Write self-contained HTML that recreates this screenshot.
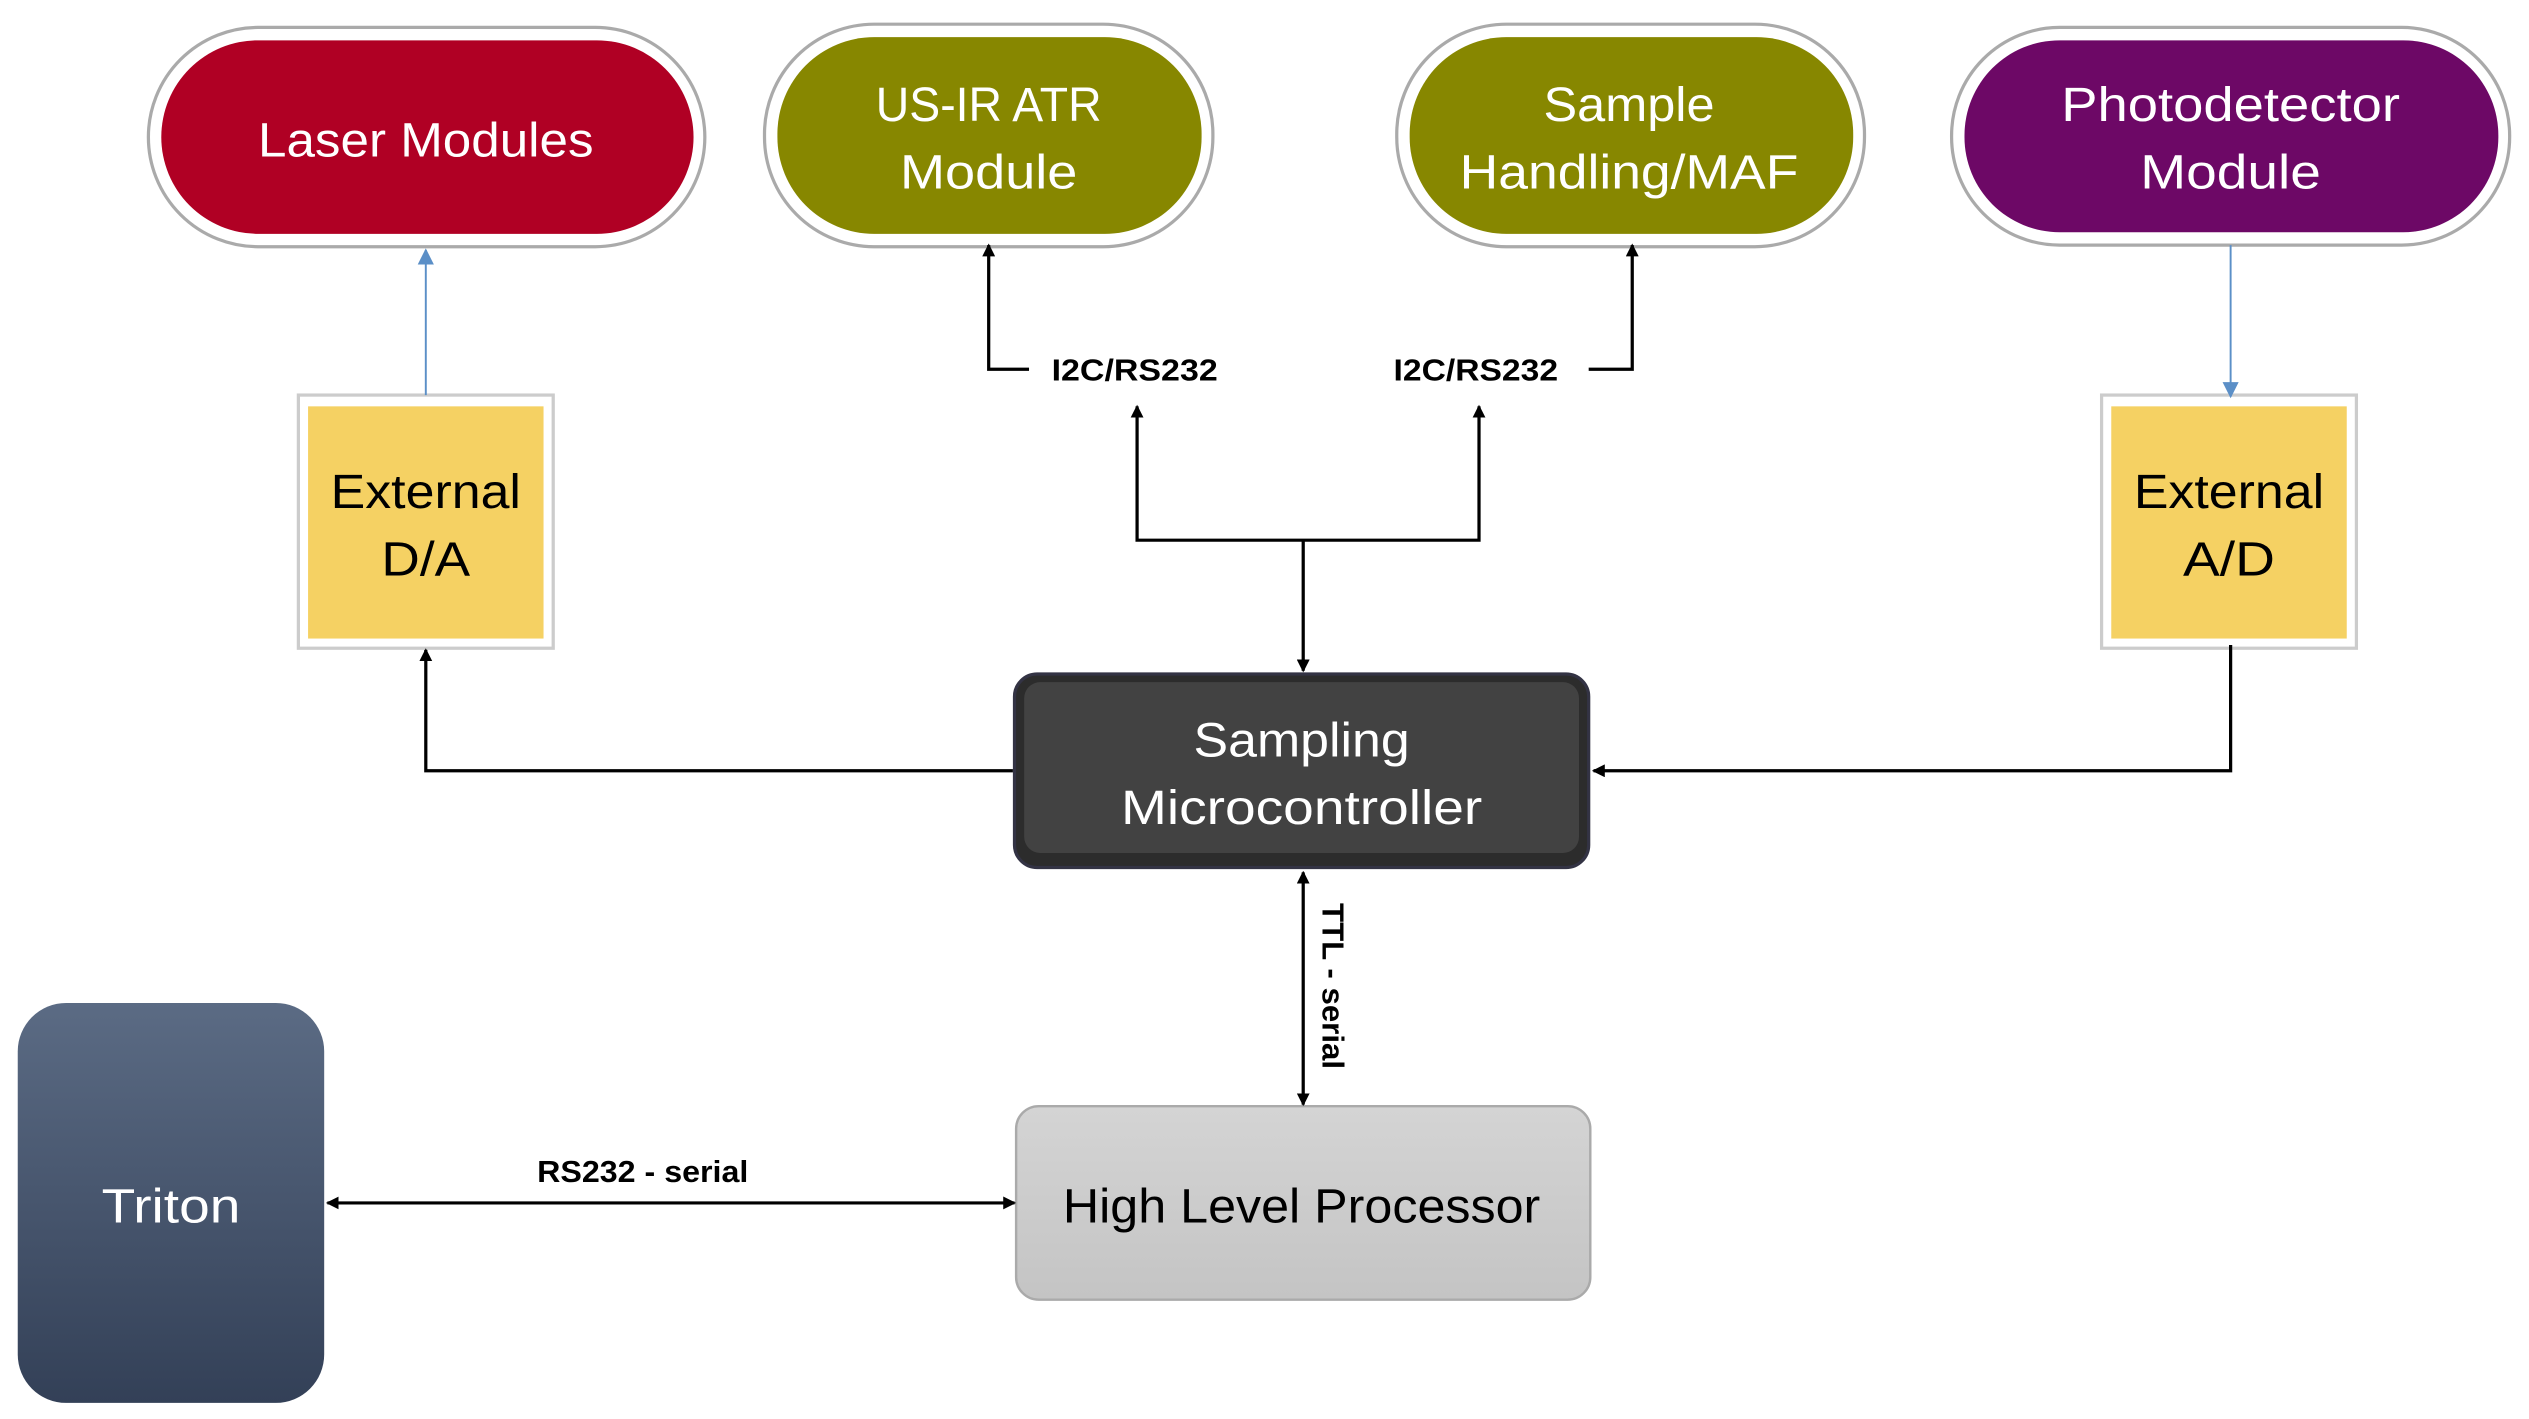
<!DOCTYPE html>
<html><head><meta charset="utf-8"><style>html,body{margin:0;padding:0;background:#fff}svg{display:block}</style></head>
<body>
<svg width="2529" height="1419" viewBox="0 0 1568 880" preserveAspectRatio="none" xmlns="http://www.w3.org/2000/svg" font-family="Liberation Sans, sans-serif">
<defs>
<linearGradient id="tri" x1="0" y1="0" x2="0" y2="1"><stop offset="0" stop-color="#5b6b84"/><stop offset="1" stop-color="#334057"/></linearGradient>
<linearGradient id="hlp" x1="0" y1="0" x2="0" y2="1"><stop offset="0" stop-color="#d4d4d4"/><stop offset="1" stop-color="#c4c4c4"/></linearGradient>
<marker id="ab" markerWidth="8" markerHeight="8" refX="7" refY="4" orient="auto" markerUnits="userSpaceOnUse"><path d="M0,0 L8,4 L0,8 z" fill="#000"/></marker>
<marker id="as" markerWidth="8" markerHeight="8" refX="1" refY="4" orient="auto" markerUnits="userSpaceOnUse"><path d="M8,0 L0,4 L8,8 z" fill="#000"/></marker>
<marker id="bl" markerWidth="10" markerHeight="10" refX="9" refY="5" orient="auto" markerUnits="userSpaceOnUse"><path d="M0,0 L10,5 L0,10 z" fill="#5b8fc7"/></marker>
</defs>
<!-- top pills -->
<rect x="92" y="17" width="345" height="136" rx="68" fill="#fff" stroke="#aaa" stroke-width="2"/>
<rect x="100" y="25" width="330" height="120" rx="60" fill="#b00024"/>
<text x="264" y="97" fill="#fff" font-size="30" text-anchor="middle" textLength="208" lengthAdjust="spacingAndGlyphs">Laser Modules</text>

<rect x="474" y="15" width="278" height="138" rx="68" fill="#fff" stroke="#aaa" stroke-width="2"/>
<rect x="482" y="23" width="263" height="122" rx="60" fill="#878700"/>
<text x="613" y="75" fill="#fff" font-size="30" text-anchor="middle" textLength="140" lengthAdjust="spacingAndGlyphs">US-IR ATR</text>
<text x="613" y="117" fill="#fff" font-size="30" text-anchor="middle" textLength="110" lengthAdjust="spacingAndGlyphs">Module</text>

<rect x="866" y="15" width="290" height="138" rx="68" fill="#fff" stroke="#aaa" stroke-width="2"/>
<rect x="874" y="23" width="275" height="122" rx="60" fill="#878700"/>
<text x="1010" y="75" fill="#fff" font-size="30" text-anchor="middle" textLength="106" lengthAdjust="spacingAndGlyphs">Sample</text>
<text x="1010" y="117" fill="#fff" font-size="30" text-anchor="middle" textLength="210" lengthAdjust="spacingAndGlyphs">Handling/MAF</text>

<rect x="1210" y="17" width="346" height="135" rx="67" fill="#fff" stroke="#aaa" stroke-width="2"/>
<rect x="1218" y="25" width="331" height="119" rx="59" fill="#6d0866"/>
<text x="1383" y="75" fill="#fff" font-size="30" text-anchor="middle" textLength="210" lengthAdjust="spacingAndGlyphs">Photodetector</text>
<text x="1383" y="117" fill="#fff" font-size="30" text-anchor="middle" textLength="112" lengthAdjust="spacingAndGlyphs">Module</text>

<!-- D/A, A/D -->
<rect x="185" y="245" width="158" height="157" fill="#fff" stroke="#ccc" stroke-width="2"/>
<rect x="191" y="252" width="146" height="144" fill="#f5d163"/>
<text x="264" y="315" font-size="30" text-anchor="middle" textLength="118" lengthAdjust="spacingAndGlyphs">External</text>
<text x="264" y="357" font-size="30" text-anchor="middle" textLength="55" lengthAdjust="spacingAndGlyphs">D/A</text>
<rect x="1303" y="245" width="158" height="157" fill="#fff" stroke="#ccc" stroke-width="2"/>
<rect x="1309" y="252" width="146" height="144" fill="#f5d163"/>
<text x="1382" y="315" font-size="30" text-anchor="middle" textLength="118" lengthAdjust="spacingAndGlyphs">External</text>
<text x="1382" y="357" font-size="30" text-anchor="middle" textLength="57" lengthAdjust="spacingAndGlyphs">A/D</text>

<!-- Microcontroller -->
<rect x="629" y="418" width="356" height="120" rx="14" fill="#2c2c2c" stroke="#334" stroke-width="2"/>
<rect x="635" y="423" width="344" height="106" rx="10" fill="#424242"/>
<text x="807" y="469" fill="#fff" font-size="30" text-anchor="middle" textLength="134" lengthAdjust="spacingAndGlyphs">Sampling</text>
<text x="807" y="511" fill="#fff" font-size="30" text-anchor="middle" textLength="224" lengthAdjust="spacingAndGlyphs">Microcontroller</text>

<!-- HLP -->
<rect x="630" y="686" width="356" height="120" rx="14" fill="url(#hlp)" stroke="#aaa" stroke-width="1.5"/>
<text x="807" y="758" font-size="30" text-anchor="middle" textLength="296" lengthAdjust="spacingAndGlyphs">High Level Processor</text>

<!-- Triton -->
<rect x="11" y="622" width="190" height="248" rx="30" fill="url(#tri)"/>
<text x="106" y="758" fill="#fff" font-size="30" text-anchor="middle" textLength="86" lengthAdjust="spacingAndGlyphs">Triton</text>

<!-- connectors -->
<g fill="none" stroke-width="2">
<line x1="264" y1="245" x2="264" y2="155" stroke="#5b8fc7" stroke-width="1.2" marker-end="url(#bl)"/>
<line x1="1383" y1="152" x2="1383" y2="246" stroke="#5b8fc7" stroke-width="1.2" marker-end="url(#bl)"/>
<polyline points="628,478 264,478 264,403" stroke="#000" marker-end="url(#ab)"/>
<polyline points="1383,400 1383,478 988,478" stroke="#000" marker-end="url(#ab)"/>
<line x1="808" y1="335" x2="808" y2="416" stroke="#000" marker-end="url(#ab)"/>
<polyline points="705,252 705,335 917,335 917,252" stroke="#000" marker-start="url(#as)" marker-end="url(#ab)"/>
<polyline points="638,229 613,229 613,152" stroke="#000" marker-end="url(#ab)"/>
<polyline points="985,229 1012,229 1012,152" stroke="#000" marker-end="url(#ab)"/>
<line x1="808" y1="541" x2="808" y2="685" stroke="#000" marker-start="url(#as)" marker-end="url(#ab)"/>
<line x1="203" y1="746" x2="629" y2="746" stroke="#000" marker-start="url(#as)" marker-end="url(#ab)"/>
</g>
<g font-size="19" font-weight="bold">
<text x="652" y="236" textLength="103" lengthAdjust="spacingAndGlyphs">I2C/RS232</text>
<text x="864" y="236" textLength="102" lengthAdjust="spacingAndGlyphs">I2C/RS232</text>
<text x="333" y="733" textLength="131" lengthAdjust="spacingAndGlyphs">RS232 - serial</text>
<text transform="translate(820,560) rotate(90)" textLength="103" lengthAdjust="spacingAndGlyphs">TTL - serial</text>
</g>
</svg>
</body></html>
